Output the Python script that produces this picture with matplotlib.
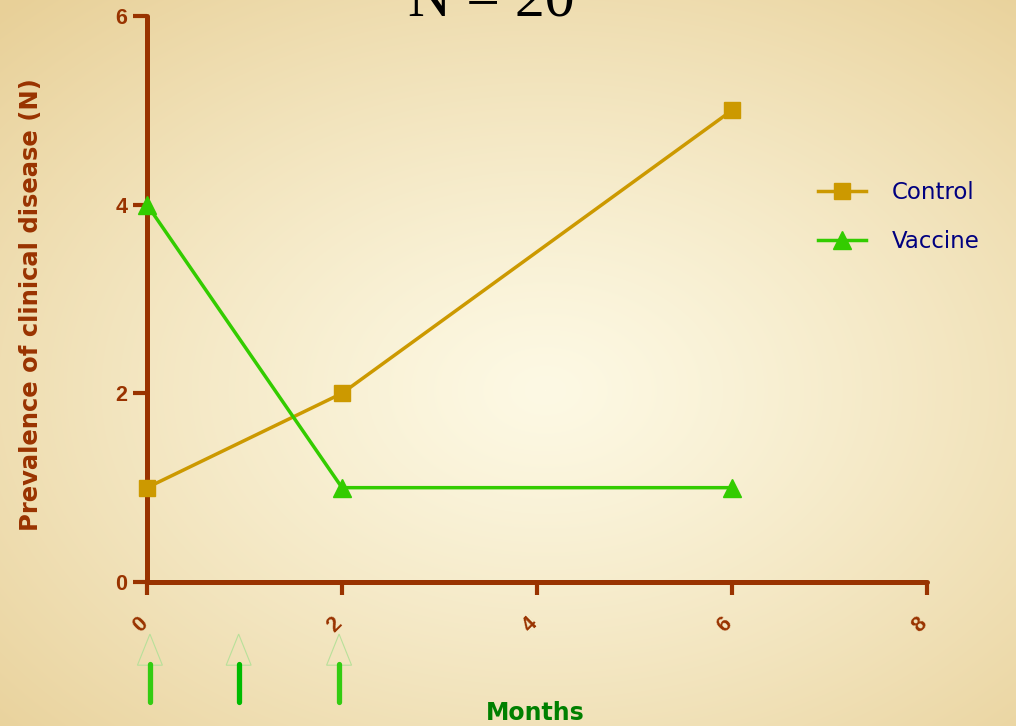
import matplotlib
matplotlib.use("Agg")
import matplotlib.pyplot as plt
import numpy as np
from matplotlib.patches import Polygon
from matplotlib.transforms import ScaledTranslation

months = [0, 2, 6]
control = [1, 2, 5]
vaccine = [4, 1, 1]
dose_x = [0.03, 0.94, 1.97]
dose_colors = ["#33cc11", "#00bb00", "#33cc11"]
xticks = [0, 2, 4, 6, 8]
yticks = [0, 2, 4, 6]

brown = "#993300"

fig = plt.figure(figsize=(10.16, 7.26), dpi=100)

# radial background
bg = fig.add_axes([0, 0, 1, 1], zorder=-10)
W, H = 1016, 726
yy, xx = np.mgrid[0:H, 0:W]
r = np.sqrt(((xx - 545) / 620.0) ** 2 + ((yy - 390) / 430.0) ** 2)
r = np.clip(r, 0, 1.25) / 1.25
c0 = np.array([253, 249, 228]) / 255.0
c1 = np.array([232, 208, 152]) / 255.0
t = r[..., None] ** 1.2
img = c0 * (1 - t) + c1 * t
bg.imshow(img, aspect="auto", extent=[0, 1, 0, 1], origin="upper")
bg.axis("off")

ax = fig.add_axes([147 / 1016, 1 - 582 / 726, 780 / 1016, 566 / 726])
ax.set_facecolor("none")

ax.plot(months, control, color="#cc9900", lw=2.5, marker="s", ms=12,
        label="Control", clip_on=False, zorder=5)
ax.plot(months, vaccine, color="#33cc00", lw=2.5, marker="^", ms=12.5,
        label="Vaccine", clip_on=False, zorder=5)

ax.set_xlim(0, 8)
ax.set_ylim(0, 6)
for s in ["top", "right"]:
    ax.spines[s].set_visible(False)
for s in ["left", "bottom"]:
    ax.spines[s].set_color(brown)
    ax.spines[s].set_linewidth(3.6)
    ax.spines[s].set_capstyle("round")

ax.set_yticks(yticks)
ax.set_xticks(xticks)
ax.set_yticklabels([str(v) for v in yticks], fontsize=15.5, fontweight="bold",
                   color=brown, family="Liberation Sans")
ax.set_xticklabels([str(v) for v in xticks], fontsize=15.5, fontweight="bold",
                   color=brown, family="Liberation Sans", rotation=45,
                   ha="center", va="center", rotation_mode="anchor")
ax.tick_params(axis="y", length=10, width=3, color=brown, pad=4)
ax.tick_params(axis="x", length=9, width=3, color=brown, pad=22)
off = ScaledTranslation(-7 / 100, 0, fig.dpi_scale_trans)
for lab in ax.get_xticklabels():
    lab.set_transform(lab.get_transform() + off)

# dose arrows under the axis
tr = ax.get_xaxis_transform()
for x, c in zip(dose_x, dose_colors):
    ax.plot([x, x], [-0.144, -0.212], color=c, lw=3.8, solid_capstyle="round",
            transform=tr, clip_on=False)
    head = Polygon([[x, -0.092], [x - 0.128, -0.147], [x + 0.128, -0.147]],
                   closed=True, fill=False, edgecolor="#b8e09a", lw=0.8,
                   transform=tr, clip_on=False)
    ax.add_patch(head)

leg = ax.legend(loc="upper left", bbox_to_anchor=(818 / 1016, 1 - 181 / 726),
                bbox_transform=fig.transFigure, frameon=False,
                prop={"family": "DejaVu Sans", "size": 16.5},
                handlelength=2.1, handletextpad=1.1, labelspacing=1.12,
                borderpad=0, borderaxespad=0)
for txt in leg.get_texts():
    txt.set_color("#000080")

fig.text(31 / 1016, 1 - 305 / 726, "Prevalence of clinical disease (N)",
         rotation=90, ha="center", va="center", fontsize=17.5,
         fontweight="bold", color=brown, family="DejaVu Sans")
fig.text(535 / 1016, 1 - 720 / 726, "Months", ha="center", va="baseline",
         fontsize=17, fontweight="bold", color="#008000", family="DejaVu Sans")
fig.text(491 / 1016, 1 - 15 / 726, "N = 20", ha="center", va="baseline",
         fontsize=43, color="black", family="Liberation Serif")

fig.savefig("out.png", dpi=100)
